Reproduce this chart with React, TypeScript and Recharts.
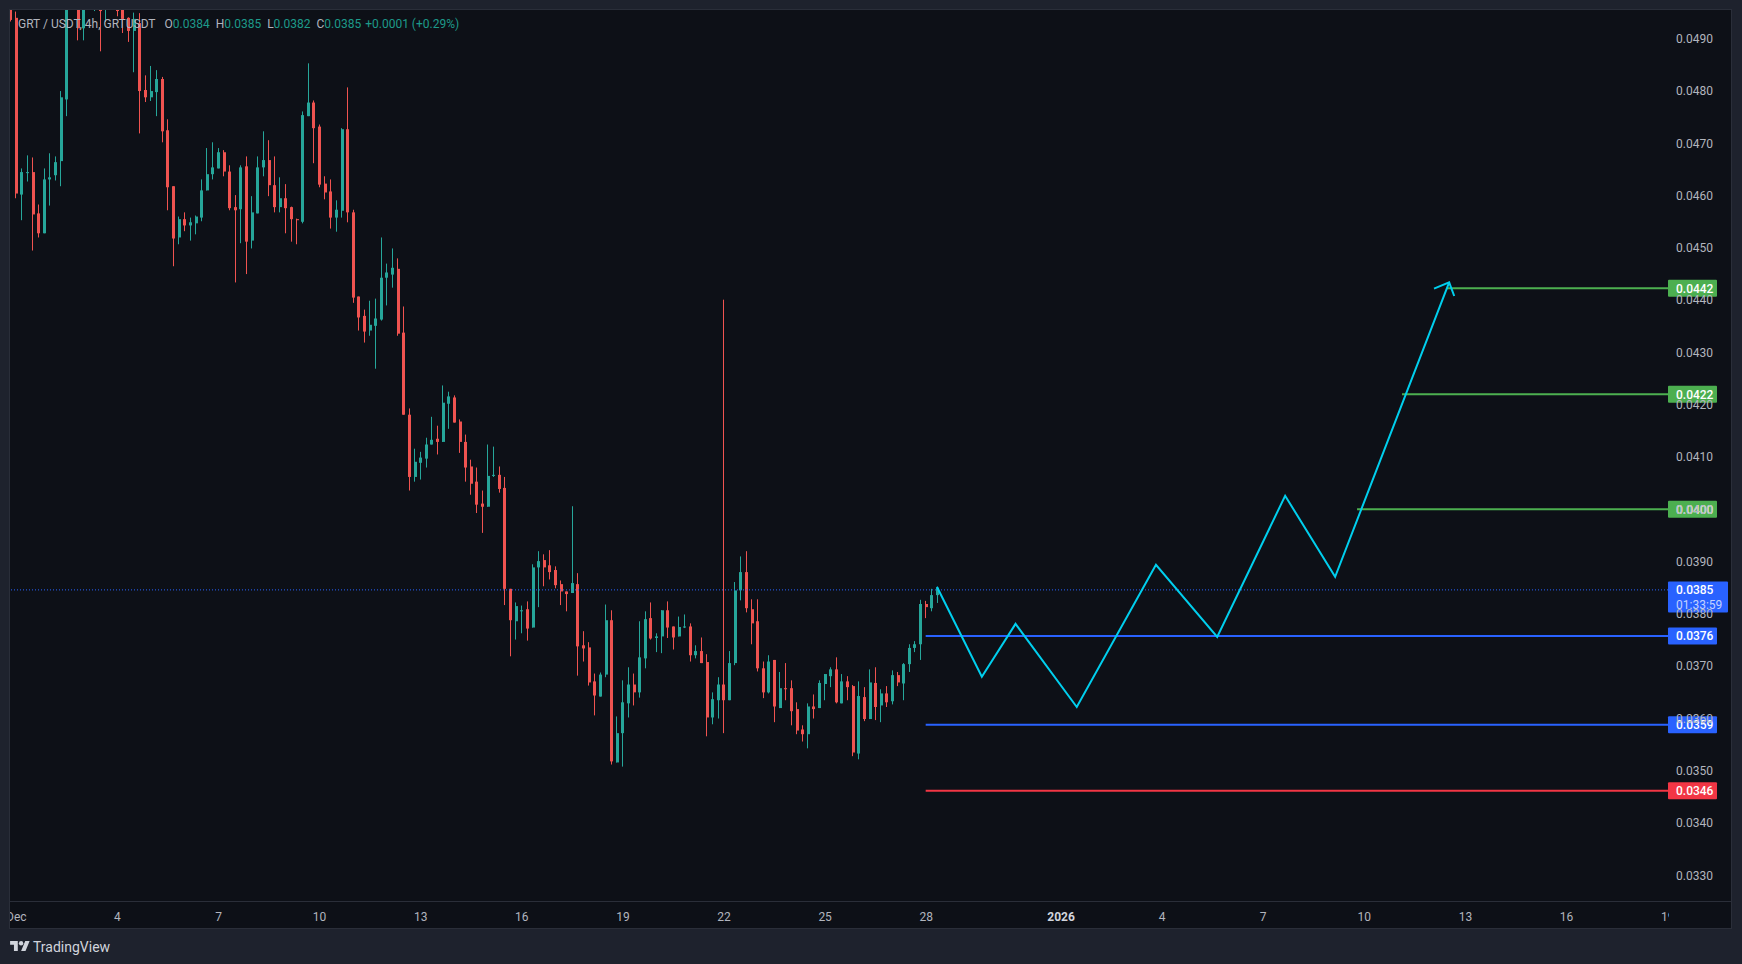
import React from "react";
import {
  Bar,
  ComposedChart,
  Line,
  ReferenceLine,
  XAxis,
  YAxis,
} from "recharts";

const opens = [
  0.05, 0.0494, 0.04602, 0.04643, 0.04645, 0.04566, 0.04528, 0.04631, 0.04639, 0.04666,
  0.04784, 0.05, 0.0503, 0.0492, 0.0502, 0.0497, 0.0497, 0.04962, 0.05, 0.04965,
  0.04955, 0.0494, 0.04915, 0.0493, 0.04802, 0.04788, 0.04798, 0.04823, 0.04725, 0.04618,
  0.0452, 0.04555, 0.04543, 0.04547, 0.04558, 0.0461, 0.04641, 0.04652, 0.04683, 0.04646,
  0.04578, 0.04574, 0.04656, 0.04514, 0.04566, 0.04654, 0.04668, 0.0462, 0.04578, 0.04595,
  0.04578, 0.04555, 0.0455, 0.04752, 0.04778, 0.04732, 0.04623, 0.04608, 0.04558, 0.04571,
  0.04727, 0.04568, 0.04407, 0.0437, 0.04342, 0.04351, 0.04363, 0.04443, 0.04449, 0.0446,
  0.04338, 0.04181, 0.04062, 0.04089, 0.04097, 0.04124, 0.04135, 0.04129, 0.04202, 0.04214,
  0.04168, 0.04129, 0.04082, 0.04053, 0.04011, 0.04005, 0.04064, 0.04066, 0.04041, 0.03848,
  0.03786, 0.03805, 0.03809, 0.03774, 0.03889, 0.03903, 0.03893, 0.03884, 0.03857, 0.03843,
  0.0384, 0.03857, 0.0374, 0.03736, 0.03671, 0.03642, 0.03684, 0.03788, 0.03516, 0.03572,
  0.03629, 0.03665, 0.0365, 0.03715, 0.03792, 0.03754, 0.03757, 0.03807, 0.03776, 0.03757,
  0.03774, 0.03776, 0.03721, 0.03729, 0.03708, 0.03602, 0.03635, 0.03665, 0.03635, 0.03706,
  0.03845, 0.0388, 0.03809, 0.03786, 0.03696, 0.0365, 0.03712, 0.0362, 0.03658, 0.03658,
  0.03618, 0.03579, 0.0357, 0.03623, 0.0362, 0.03666, 0.03681, 0.03694, 0.03629, 0.03671,
  0.03662, 0.03533, 0.03641, 0.03599, 0.03668, 0.03625, 0.03648, 0.03633, 0.03683, 0.03667,
  0.03704, 0.03735, 0.03742, 0.03819, 0.03811, 0.03836,
];
const highs = [
  0.0501, 0.04952, 0.04652, 0.04677, 0.04673, 0.04583, 0.04652, 0.04681, 0.04675, 0.048,
  0.0502, 0.051, 0.0505, 0.0504, 0.0504, 0.0502, 0.05, 0.0502, 0.0501, 0.0499,
  0.0498, 0.04941, 0.0495, 0.04949, 0.0483, 0.04848, 0.0484, 0.04827, 0.04746, 0.04618,
  0.0456, 0.04568, 0.04558, 0.04562, 0.04631, 0.04691, 0.04702, 0.04691, 0.04687, 0.04658,
  0.04601, 0.04658, 0.04675, 0.04599, 0.04675, 0.04723, 0.04706, 0.04675, 0.04635, 0.04622,
  0.04579, 0.04556, 0.04761, 0.04853, 0.04782, 0.04736, 0.04637, 0.04631, 0.04591, 0.04729,
  0.04807, 0.04573, 0.04407, 0.04382, 0.04399, 0.04403, 0.0452, 0.0447, 0.04499, 0.0448,
  0.04388, 0.04193, 0.04116, 0.0411, 0.04137, 0.04177, 0.0416, 0.04237, 0.04225, 0.04218,
  0.04172, 0.04143, 0.04095, 0.0408, 0.04036, 0.04124, 0.0412, 0.04082, 0.04062, 0.03848,
  0.03822, 0.03816, 0.03824, 0.03895, 0.0392, 0.03914, 0.03922, 0.03891, 0.03864, 0.03843,
  0.04006, 0.03878, 0.03767, 0.03746, 0.03686, 0.03688, 0.03818, 0.03807, 0.03604, 0.03673,
  0.03698, 0.03686, 0.03786, 0.03805, 0.03822, 0.03763, 0.03807, 0.03824, 0.03776, 0.03795,
  0.03799, 0.03782, 0.0374, 0.03755, 0.03723, 0.0365, 0.03679, 0.04401, 0.03729, 0.03861,
  0.0391, 0.0392, 0.03828, 0.03828, 0.03709, 0.03721, 0.03712, 0.03689, 0.03706, 0.03673,
  0.03631, 0.03587, 0.03629, 0.03646, 0.03673, 0.03685, 0.03698, 0.03717, 0.03685, 0.03681,
  0.03664, 0.03671, 0.0366, 0.03694, 0.03698, 0.03656, 0.03662, 0.03692, 0.03689, 0.03706,
  0.03742, 0.03748, 0.03827, 0.03825, 0.03848, 0.0385,
];
const lows = [
  0.04933, 0.04595, 0.04553, 0.04627, 0.04495, 0.0452, 0.04528, 0.04581, 0.04629, 0.04618,
  0.04752, 0.04965, 0.04897, 0.04897, 0.04965, 0.04953, 0.04876, 0.04932, 0.0496, 0.04943,
  0.04911, 0.04894, 0.04836, 0.04719, 0.04779, 0.04781, 0.04752, 0.04702, 0.04572, 0.04465,
  0.04507, 0.04532, 0.04514, 0.04526, 0.04551, 0.0461, 0.04631, 0.04652, 0.04637, 0.04572,
  0.04434, 0.04509, 0.0445, 0.04499, 0.04566, 0.04637, 0.04599, 0.04568, 0.04568, 0.04528,
  0.04512, 0.04507, 0.04547, 0.04752, 0.04662, 0.04616, 0.04593, 0.04537, 0.04531, 0.04558,
  0.04549, 0.04395, 0.04342, 0.04319, 0.04332, 0.04269, 0.04361, 0.0439, 0.04424, 0.04332,
  0.04181, 0.04036, 0.04053, 0.04057, 0.0408, 0.04124, 0.04105, 0.04129, 0.04154, 0.04166,
  0.04108, 0.04053, 0.04028, 0.03993, 0.03955, 0.04005, 0.04062, 0.04032, 0.03817, 0.03719,
  0.03751, 0.03763, 0.03749, 0.03774, 0.03813, 0.03853, 0.03866, 0.03849, 0.03817, 0.03805,
  0.0384, 0.03682, 0.03709, 0.03663, 0.03606, 0.03642, 0.03679, 0.03512, 0.03516, 0.03508,
  0.03602, 0.03625, 0.0364, 0.03696, 0.03751, 0.03727, 0.03725, 0.03754, 0.03732, 0.03757,
  0.03773, 0.03709, 0.03715, 0.03706, 0.03566, 0.03589, 0.036, 0.03572, 0.03635, 0.03702,
  0.03826, 0.03803, 0.03742, 0.0369, 0.03639, 0.03648, 0.03593, 0.0362, 0.03635, 0.03587,
  0.0357, 0.03556, 0.03543, 0.036, 0.0362, 0.03635, 0.0366, 0.03629, 0.03629, 0.03635,
  0.03528, 0.03522, 0.03595, 0.03599, 0.03597, 0.03593, 0.03622, 0.03627, 0.03662, 0.03635,
  0.03689, 0.03727, 0.03712, 0.03792, 0.03805, 0.03821,
];
const closes = [
  0.04936, 0.04604, 0.04645, 0.04645, 0.04564, 0.04528, 0.04631, 0.04635, 0.04664, 0.04788,
  0.05, 0.0506, 0.0492, 0.0502, 0.05, 0.05, 0.04953, 0.05, 0.0497, 0.04953,
  0.04938, 0.04915, 0.04938, 0.048, 0.04788, 0.048, 0.04823, 0.04723, 0.04616, 0.04518,
  0.04555, 0.04543, 0.04549, 0.0456, 0.0461, 0.04641, 0.04654, 0.04683, 0.04646, 0.04576,
  0.04572, 0.04654, 0.04512, 0.04568, 0.04654, 0.04668, 0.0462, 0.04578, 0.04595, 0.04576,
  0.04555, 0.04553, 0.04754, 0.04778, 0.04729, 0.04621, 0.04606, 0.04558, 0.04573, 0.04727,
  0.04568, 0.04405, 0.04367, 0.0434, 0.04353, 0.04365, 0.04443, 0.04453, 0.04462, 0.04336,
  0.04181, 0.04062, 0.04091, 0.04099, 0.04124, 0.04133, 0.04129, 0.04204, 0.04216, 0.04166,
  0.04129, 0.0408, 0.04049, 0.04009, 0.04005, 0.04064, 0.04066, 0.04039, 0.03848, 0.03788,
  0.03815, 0.03807, 0.03772, 0.03889, 0.03901, 0.03889, 0.0388, 0.03855, 0.03843, 0.03838,
  0.03859, 0.03738, 0.03734, 0.03669, 0.03644, 0.03684, 0.03788, 0.03518, 0.03572, 0.03631,
  0.03665, 0.0365, 0.03717, 0.0379, 0.03753, 0.03757, 0.03807, 0.03774, 0.03755, 0.03775,
  0.03776, 0.03721, 0.03729, 0.03706, 0.03602, 0.03637, 0.03665, 0.03635, 0.03706, 0.03845,
  0.0388, 0.03811, 0.03782, 0.03696, 0.0365, 0.03709, 0.03623, 0.03658, 0.03656, 0.03614,
  0.03577, 0.0357, 0.03623, 0.03618, 0.03668, 0.03685, 0.03694, 0.03631, 0.03671, 0.0366,
  0.03535, 0.03643, 0.03599, 0.03669, 0.03622, 0.03648, 0.03631, 0.03683, 0.03669, 0.03704,
  0.03735, 0.03742, 0.03819, 0.03813, 0.03836, 0.0385,
];

// candle slots (4h), fractional where the drawing sits between candles
const forecastSlots = [164.9, 172.9, 178.9, 189.8, 203.9, 214.8, 226.9, 235.8, 256.1];
const forecastPrices = [0.03852, 0.0368, 0.03781, 0.03622, 0.03894, 0.03756, 0.04026, 0.03871, 0.04434];
const arrowSlots = [253.4, 256.1, 257];
const arrowPrices = [0.04422, 0.04434, 0.04408];

const levelPrices = [0.04423, 0.0422, 0.04, 0.03758, 0.03588, 0.03462];
const levelStarts = [255.7, 247.7, 239.7, 162.9, 162.9, 162.9];
const levelColors = ["#4caf50", "#4caf50", "#4caf50", "#2962ff", "#2962ff", "#f23645"];
const lastPrice = 0.03846;

const priceTicks = [
  0.033, 0.034, 0.035, 0.036, 0.037, 0.038, 0.039, 0.04, 0.041, 0.042, 0.043, 0.044, 0.045,
  0.046, 0.047, 0.048, 0.049,
];
const dayTicks = [1, 19, 37, 55, 73, 91, 109, 127, 145, 163, 187, 205, 223, 241, 259, 277, 295];
const dayLabels = ["Dec", "4", "7", "10", "13", "16", "19", "22", "25", "28", "2026", "4", "7", "10", "13", "16", "19"];

const UP = "#26a69a";
const DOWN = "#ef5350";
const TEXT = "#b2b5be";
const LEGEND_UP = "#1d9a8a";
const FONT = "Roboto, sans-serif";
const SLOT_MIN = -0.1216;
const SLOT_MAX = 295.06;

const candles = opens.map((open, i) => ({
  slot: i,
  open,
  close: closes[i],
  wick: [lows[i], highs[i]],
  body: [Math.min(open, closes[i]), Math.max(open, closes[i])],
}));
const forecast = forecastSlots.map((slot, i) => ({ slot, price: forecastPrices[i] }));
const arrow = arrowSlots.map((slot, i) => ({ slot, price: arrowPrices[i] }));

// thickness is set here because the two bars otherwise end up the same width
function CandlePart({ x, y, width, height, payload, thickness }: any) {
  return (
    <rect
      x={Math.round(x + width / 2 - thickness / 2)}
      y={y}
      width={thickness}
      height={Math.max(height, 1)}
      fill={payload.close >= payload.open ? UP : DOWN}
    />
  );
}

function DayTick({ x, y, index }: any) {
  const label = dayLabels[index];
  return (
    <g>
      <clipPath id={`day-${index}`}>
        <rect x={10} y={y - 10} width={1659} height={40} />
      </clipPath>
      <text
        x={x}
        y={y + 12}
        textAnchor="middle"
        fill={label === "2026" ? "#d1d4dc" : TEXT}
        fontSize={12}
        fontWeight={label === "2026" ? 700 : 400}
        fontFamily={FONT}
        clipPath={`url(#day-${index})`}
      >
        {label}
      </text>
    </g>
  );
}

function PriceTag({ viewBox, fill, text }: any) {
  const left = viewBox.x + viewBox.width;
  return (
    <g>
      <rect x={left} y={viewBox.y - 8.5} width={49} height={17} fill={fill} rx={1} />
      <text
        x={left + 8}
        y={viewBox.y + 4.5}
        fill="#ffffff"
        fontSize={12}
        fontWeight={500}
        fontFamily={FONT}
      >
        {text}
      </text>
    </g>
  );
}

function LastTag({ viewBox }: any) {
  const left = viewBox.x + viewBox.width;
  return (
    <g fontSize={12} fontFamily={FONT}>
      <rect x={left} y={viewBox.y - 8.5} width={60} height={31} fill="#2962ff" rx={1} />
      <text x={left + 8} y={viewBox.y + 4.5} fill="#ffffff" fontWeight={500}>
        0.0385
      </text>
      <text x={left + 8} y={viewBox.y + 19} fill="#c3d1ff">
        01:33:59
      </text>
    </g>
  );
}

function App() {
  return (
    <div
      style={{
        position: "absolute",
        left: 0,
        top: 0,
        width: 1742,
        height: 964,
        overflow: "hidden",
        background: "#1e222d",
        fontFamily: FONT,
      }}
    >
      <div
        style={{
          position: "absolute",
          left: 9,
          top: 9,
          width: 1721,
          height: 918,
          background: "#0d1017",
          border: "1px solid #2a2e39",
        }}
      />
      <div
        style={{
          position: "absolute",
          left: 10,
          top: 901,
          width: 1721,
          height: 1,
          background: "#2a2e39",
        }}
      />
      <div style={{ position: "absolute", left: 0, top: 0 }}>
        <ComposedChart
          width={1742}
          height={964}
          data={candles}
          margin={{ top: 10, right: 11, bottom: 36, left: 10 }}
        >
          <XAxis
            xAxisId="body"
            dataKey="slot"
            type="number"
            domain={[SLOT_MIN, SLOT_MAX]}
            allowDataOverflow
            ticks={dayTicks}
            interval={0}
            height={27}
            axisLine={false}
            tickLine={false}
            tick={<DayTick />}
          />
          <XAxis
            xAxisId="wick"
            dataKey="slot"
            type="number"
            domain={[SLOT_MIN, SLOT_MAX]}
            allowDataOverflow
            hide
          />
          <YAxis
            orientation="right"
            width={63}
            domain={[0.03251, 0.04955]}
            allowDataOverflow
            ticks={priceTicks}
            interval={0}
            axisLine={false}
            tickLine={false}
            tickMargin={2}
            tickFormatter={(v: number) => v.toFixed(4)}
            tick={{ fill: TEXT, fontSize: 12, fontFamily: FONT }}
          />
          <ReferenceLine
            xAxisId="body"
            y={lastPrice}
            stroke="#2962ff"
            strokeDasharray="1 2"
            label={<LastTag />}
          />
          <Bar
            xAxisId="wick"
            dataKey="wick"
            barSize={1}
            shape={<CandlePart thickness={1} />}
            isAnimationActive={false}
          />
          <Bar
            xAxisId="body"
            dataKey="body"
            barSize={3}
            shape={<CandlePart thickness={3} />}
            isAnimationActive={false}
          />
          {levelPrices.map((level, i) => (
            <ReferenceLine
              key={level}
              xAxisId="body"
              segment={[
                { x: levelStarts[i], y: level },
                { x: SLOT_MAX, y: level },
              ]}
              stroke={levelColors[i]}
              strokeWidth={2}
              label={<PriceTag fill={levelColors[i]} text={level.toFixed(4)} />}
            />
          ))}
          <Line
            xAxisId="body"
            data={forecast}
            dataKey="price"
            stroke="#00cfee"
            strokeWidth={2}
            dot={false}
            isAnimationActive={false}
          />
          <Line
            xAxisId="body"
            data={arrow}
            dataKey="price"
            stroke="#00cfee"
            strokeWidth={2}
            dot={false}
            isAnimationActive={false}
          />
        </ComposedChart>
      </div>
      <div
        style={{
          position: "absolute",
          left: 18,
          top: 16,
          fontSize: 12,
          lineHeight: "16px",
          whiteSpace: "pre",
          color: TEXT,
        }}
      >
        GRT / USDT, 4h, GRTUSDT
        <span style={{ marginLeft: 9 }}>O</span>
        <span style={{ color: LEGEND_UP }}>0.0384</span>
        <span style={{ marginLeft: 6 }}>H</span>
        <span style={{ color: LEGEND_UP }}>0.0385</span>
        <span style={{ marginLeft: 6 }}>L</span>
        <span style={{ color: LEGEND_UP }}>0.0382</span>
        <span style={{ marginLeft: 6 }}>C</span>
        <span style={{ color: LEGEND_UP }}>0.0385</span>
        <span style={{ color: LEGEND_UP, marginLeft: 4 }}>+0.0001 (+0.29%)</span>
      </div>
      <svg
        style={{ position: "absolute", left: 10, top: 941 }}
        width={20}
        height={11}
        viewBox="0 0 36 20"
        fill="#d1d4dc"
      >
        <path d="M14 18H7V7H0V0h14v18zM28 18h-8l7.5-18h8L28 18z" />
        <circle cx="20" cy="4" r="4" />
      </svg>
      <div
        style={{
          position: "absolute",
          left: 33,
          top: 938,
          fontSize: 14,
          lineHeight: "18px",
          color: "#d1d4dc",
        }}
      >
        TradingView
      </div>
    </div>
  );
}

export default App;
